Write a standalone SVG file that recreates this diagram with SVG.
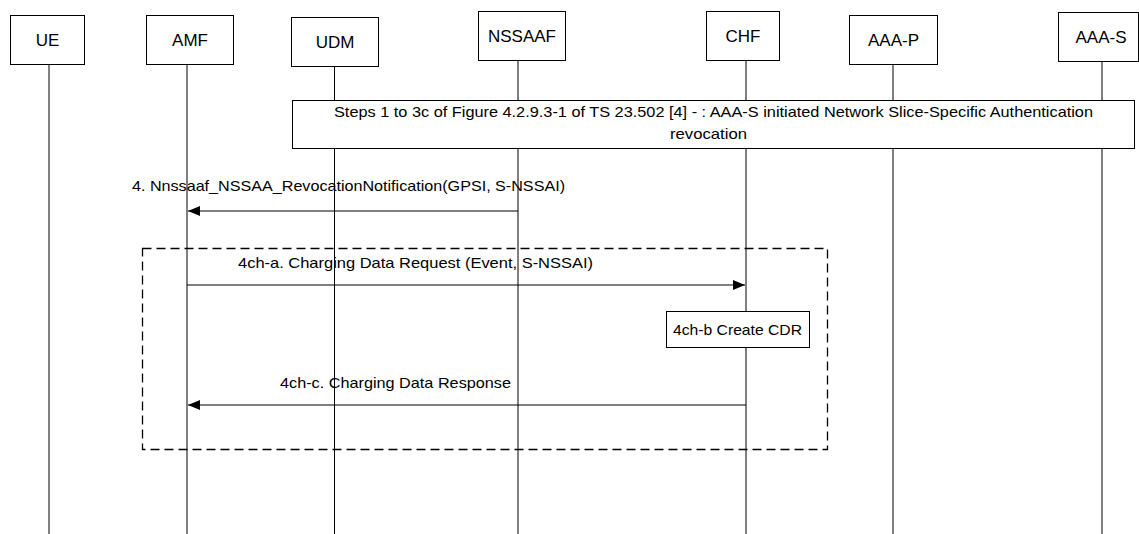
<svg xmlns="http://www.w3.org/2000/svg" width="1139" height="534" viewBox="0 0 1139 534">
<style>
.box{fill:#fff;stroke:#000;stroke-width:1}
.life{stroke:#000;stroke-width:1}
.msg{stroke:#000;stroke-width:1;fill:none}
.t{font-family:"Liberation Sans",Arial,sans-serif;fill:#000}
.n{font-size:17px;text-anchor:middle}
.m{font-size:15px}
</style>
<defs>
<marker id="ah" markerWidth="12" markerHeight="10" refX="12" refY="5" orient="auto" markerUnits="userSpaceOnUse">
<path d="M0,0 L12,5 L0,10 Z" fill="#000"/>
</marker>
</defs>
<rect width="1139" height="534" fill="#fff"/>
<g id="lifelines">
<line class="life" x1="49" y1="64" x2="49" y2="534"/>
<line class="life" x1="187" y1="64" x2="187" y2="534"/>
<line class="life" x1="334.5" y1="66" x2="334.5" y2="534"/>
<line class="life" x1="518" y1="60" x2="518" y2="534"/>
<line class="life" x1="746" y1="60" x2="746" y2="534"/>
<line class="life" x1="893" y1="64" x2="893" y2="534"/>
<line class="life" x1="1102" y1="61" x2="1102" y2="534"/>
</g>
<g id="UE"><rect class="box" x="10.5" y="15.5" width="74" height="49"/><text class="t n" x="47.5" y="46">UE</text></g>
<g id="AMF"><rect class="box" x="146.5" y="15.5" width="87" height="49"/><text class="t n" x="190" y="46">AMF</text></g>
<g id="UDM"><rect class="box" x="291.5" y="17.5" width="87" height="49"/><text class="t n" x="335" y="48">UDM</text></g>
<g id="NSSAAF"><rect class="box" x="478.5" y="11.5" width="87" height="49"/><text class="t n" x="522" y="42">NSSAAF</text></g>
<g id="CHF"><rect class="box" x="706.5" y="11.5" width="73" height="49"/><text class="t n" x="743" y="42">CHF</text></g>
<g id="AAA-P"><rect class="box" x="849.5" y="15.5" width="88" height="49"/><text class="t n" x="893.5" y="46">AAA-P</text></g>
<g id="AAA-S"><rect class="box" x="1058.5" y="12.5" width="80" height="49"/><text class="t n" x="1101" y="43">AAA-S</text></g>
<g id="steps">
<rect class="box" x="292.5" y="100.5" width="842" height="48"/>
<text class="t m" x="334" y="117" textLength="759" lengthAdjust="spacingAndGlyphs">Steps 1 to 3c of Figure 4.2.9.3-1 of TS 23.502 [4] - : AAA-S initiated Network Slice-Specific Authentication</text>
<text class="t m" x="670" y="139" textLength="77" lengthAdjust="spacingAndGlyphs">revocation</text>
</g>
<g id="group">
<rect x="142.5" y="248.5" width="685" height="201" fill="none" stroke="#000" stroke-width="1.3" stroke-dasharray="9,5"/>
</g>
<g id="CDR">
<rect class="box" x="666.5" y="311.5" width="143" height="36"/>
<text class="t m" x="673" y="335" textLength="129" lengthAdjust="spacingAndGlyphs">4ch-b Create CDR</text>
</g>
<g id="connectors">
<line class="msg" x1="518" y1="211" x2="188" y2="211" marker-end="url(#ah)"/>
<line class="msg" x1="187" y1="285" x2="745" y2="285" marker-end="url(#ah)"/>
<line class="msg" x1="746" y1="405" x2="188" y2="405" marker-end="url(#ah)"/>
</g>
<g id="labels">
<text class="t m" x="132" y="191" textLength="433" lengthAdjust="spacingAndGlyphs">4. Nnssaaf_NSSAA_RevocationNotification(GPSI, S-NSSAI)</text>
<text class="t m" x="238" y="268" textLength="355" lengthAdjust="spacingAndGlyphs">4ch-a. Charging Data Request (Event, S-NSSAI)</text>
<text class="t m" x="280" y="388" textLength="231" lengthAdjust="spacingAndGlyphs">4ch-c. Charging Data Response</text>
</g>
</svg>
